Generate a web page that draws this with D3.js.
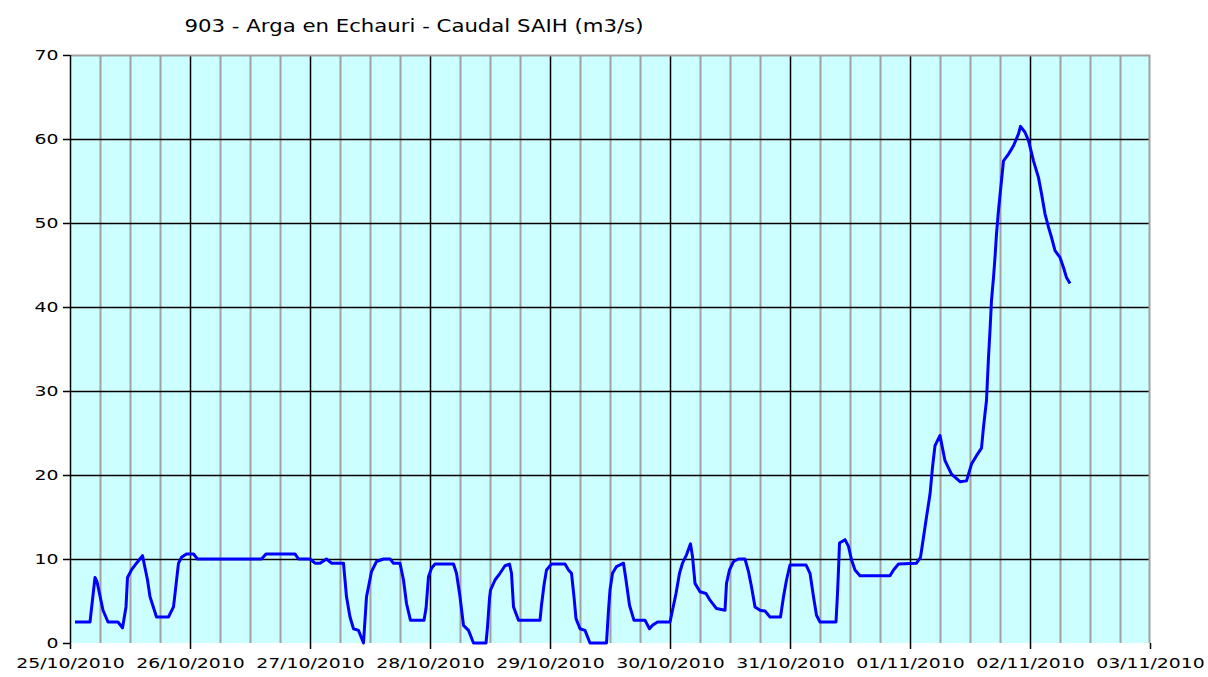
<!DOCTYPE html>
<html>
<head>
<meta charset="utf-8">
<script src="https://cdn.jsdelivr.net/npm/d3@7"></script>
<style>
  body { margin: 0; background: #ffffff; }
  text { font-family: "DejaVu Sans", Verdana, sans-serif; fill: #000; }
</style>
</head>
<body>
<div id="chart"></div>
<script>
// Caudal SAIH, estacion 903 Arga en Echauri
var titulo = "903 - Arga en Echauri - Caudal SAIH (m3/s)";
var inicio = Date.UTC(2010, 9, 25);   // 25/10/2010 00:00
var fin = Date.UTC(2010, 10, 3);      // 03/11/2010 00:00
var yTicks = [0, 10, 20, 30, 40, 50, 60, 70];

// horas desde el 25/10/2010 00:00
var horas = [
  1, 4, 5, 5.4, 6.6, 7.6, 9.6, 10.5, 11.2, 11.5, 12.3, 13.3, 14.5, 15.5, 16, 17.3, 19.7, 20.7, 21.7, 22.3, 23.3,
  24.7, 25.5, 38.3, 39.2, 45, 45.7,
  48, 49, 50, 51.3, 52.3, 54.7, 55.3, 56, 56.7, 57.7, 58.7, 59.3, 59.7, 60.3, 61.3, 62.7, 64, 64.7, 66, 66.7, 67.3, 68.1, 70.8, 71.2, 71.7,
  72.3, 73, 76.7, 77.3, 78, 78.7, 79.7, 80.7, 83.2, 83.5, 83.9, 84.1, 85, 86, 87, 87.9, 88.3, 88.7, 89.7, 94, 94.3, 94.8, 95.3,
  96.3, 99, 99.7, 100.3, 100.8, 101.2, 102, 103, 104, 107.3, 107.7, 108, 108.5, 109.3, 110.7, 111.2, 111.9, 112.8, 115, 115.9, 116.5, 117.5,
  120, 120.5, 121.2, 121.9, 122.5, 123.3, 124.1, 124.5, 125, 126, 127.2, 128, 129.3, 131, 131.3, 131.9, 132.7, 133.7, 135, 135.7, 136.3, 137, 138, 139, 140, 142.1, 142.7, 143.3,
  144, 147.2, 148, 148.7, 149.3, 150, 153.2, 153.5, 153.7, 153.9, 155, 155.7, 156.3, 157, 158, 164, 164.7, 165.7,
  169.3, 170.1, 170.7, 171.3, 172, 172.5, 173, 174, 175, 176.3, 178, 179.3, 180.3, 181.3, 182.3, 182.7, 183.3, 183.7, 184, 184.3, 184.7, 185, 185.3, 185.7, 186.1, 186.7, 187.7, 188.7, 189.7, 190.1,
  191, 191.7, 192.7, 193.7, 194.3, 195, 195.7, 196.3, 197, 198, 198.7, 199.3, 200
];
var caudal = [
  2.5, 2.5, 7.8, 7.3, 3.9, 2.5, 2.5, 1.8, 4.3, 7.8, 8.7, 9.5, 10.4, 7.5, 5.5, 3.1, 3.1, 4.3, 9.5, 10.2, 10.6,
  10.6, 10.0, 10.0, 10.6, 10.6, 10.0,
  10.0, 9.5, 9.5, 10.0, 9.5, 9.5, 5.5, 3.1, 1.7, 1.5, 0, 5.5, 6.7, 8.5, 9.7, 10.0, 10.0, 9.5, 9.5, 7.5, 4.7, 2.7, 2.7, 4.1, 7.9,
  8.9, 9.4, 9.4, 8.3, 5.5, 2.1, 1.5, 0, 0, 1.9, 5.3, 6.3, 7.5, 8.3, 9.2, 9.4, 8.3, 4.3, 2.7, 2.7, 4.5, 6.9, 8.7,
  9.4, 9.4, 8.7, 8.3, 5.5, 2.9, 1.7, 1.5, 0, 0, 3.9, 6.3, 8.3, 9.1, 9.5, 7.5, 4.5, 2.7, 2.7, 1.7, 2.1, 2.5,
  2.5, 3.9, 5.9, 8.3, 9.5, 10.5, 11.8, 10.3, 7.1, 6.1, 5.9, 5.1, 4.1, 3.9, 7.1, 8.7, 9.7, 10.0, 10.0, 8.5, 6.7, 4.3, 3.9, 3.8, 3.1, 3.1, 5.5, 7.5,
  9.3, 9.3, 8.3, 5.5, 3.3, 2.5, 2.5, 5.9, 8.7, 11.9, 12.3, 11.5, 9.9, 8.7, 8.0, 8.0, 8.7, 9.4,
  9.5, 10.2, 12.6, 15.0, 17.7, 20.9, 23.5, 24.7, 21.7, 20.1, 19.2, 19.3, 21.3, 22.3, 23.2, 25.7, 28.9, 34.0, 37.2, 40.8, 43.5, 45.9, 48.7, 51.5, 53.9, 57.4, 58.2, 59.2, 60.6, 61.5,
  60.8, 59.8, 57.4, 55.4, 53.5, 51.1, 49.5, 48.3, 46.7, 45.9, 44.7, 43.5, 42.8
];

var W = 1208, H = 677;
var margin = { top: 55, right: 58, bottom: 34, left: 70 },
    width = W - margin.left - margin.right,
    height = H - margin.top - margin.bottom;
var stretch = 1.3;   // el original tiene el texto ensanchado

var x = d3.scaleUtc().domain([new Date(inicio), new Date(fin)]).range([0, width]);
var y = d3.scaleLinear().domain([0, 70]).range([height, 0]);

var datos = horas.map(function (h, i) {
  return { t: new Date(inicio + h * 3600000), v: caudal[i] };
});

var svg = d3.select("#chart").append("svg")
  .attr("width", W)
  .attr("height", H);

svg.append("text")
  .attr("transform", "translate(414,32) scale(1.25,1)")
  .attr("text-anchor", "middle")
  .style("font-size", "17px")
  .text(titulo);

var g = svg.append("g")
  .attr("transform", "translate(" + margin.left + "," + margin.top + ")");

g.append("rect")
  .attr("width", width)
  .attr("height", height)
  .attr("fill", "#ccffff");

// rejilla vertical menor cada 6 horas
var menores = d3.utcHour.every(6).range(new Date(inicio), new Date(fin)).filter(function (d) {
  return d.getUTCHours() !== 0;
});
g.selectAll(".minor")
  .data(menores)
  .enter().append("line")
  .attr("class", "minor")
  .attr("x1", function (d) { return Math.round(x(d)) + 0.5; })
  .attr("x2", function (d) { return Math.round(x(d)) + 0.5; })
  .attr("y1", 0)
  .attr("y2", height)
  .attr("stroke", "#a0a0a0")
  .attr("stroke-width", 2);

// dias
var dias = d3.utcDay.range(new Date(inicio), new Date(fin + 1));
g.selectAll(".major")
  .data(dias.slice(1, -1))
  .enter().append("line")
  .attr("class", "major")
  .attr("x1", function (d) { return Math.round(x(d)) + 0.5; })
  .attr("x2", function (d) { return Math.round(x(d)) + 0.5; })
  .attr("y1", 0)
  .attr("y2", height)
  .attr("stroke", "#000")
  .attr("stroke-width", 1.5);

// horizontales
g.selectAll(".hgrid")
  .data(yTicks.slice(1, -1))
  .enter().append("line")
  .attr("class", "hgrid")
  .attr("x1", 0)
  .attr("x2", width)
  .attr("y1", function (d) { return Math.round(y(d)) + 0.5; })
  .attr("y2", function (d) { return Math.round(y(d)) + 0.5; })
  .attr("stroke", "#000")
  .attr("stroke-width", 1.5);

// borde superior y derecho gris
g.append("path")
  .attr("d", "M0.5,0.5H" + (width - 0.5) + "V" + height)
  .attr("fill", "none")
  .attr("stroke", "#a0a0a0")
  .attr("stroke-width", 2);

var line = d3.line()
  .x(function (d) { return x(d.t); })
  .y(function (d) { return y(d.v); });

g.append("path")
  .datum(datos)
  .attr("d", line)
  .attr("fill", "none")
  .attr("stroke", "#0000ff")
  .attr("stroke-width", 3)
  .attr("stroke-linejoin", "round");

// ejes
var yAxis = d3.axisLeft(y).tickValues(yTicks).tickSize(7).tickPadding(6);
var xAxis = d3.axisBottom(x).tickValues(dias).tickSize(6).tickPadding(9)
  .tickFormat(d3.utcFormat("%d/%m/%Y"));

var gy = g.append("g").call(yAxis);
var gx = g.append("g").attr("transform", "translate(0," + height + ")").call(xAxis);

[gx, gy].forEach(function (ax) {
  ax.select(".domain").attr("stroke", "#000").attr("stroke-width", 1.5);
  ax.selectAll(".tick line").attr("stroke", "#000").attr("stroke-width", 1.5);
  ax.selectAll("text").style("font-size", "14.5px").attr("fill", "#000");
});
gy.select(".domain").attr("d", "M0.5," + height + "V0");
gx.select(".domain").attr("d", "M0," + (height + 0.5) + "H" + width);

gx.selectAll(".tick text").each(function () {
  var t = d3.select(this);
  t.attr("transform", "scale(" + stretch + ",1)");
});
gy.selectAll(".tick text").each(function () {
  var t = d3.select(this);
  t.attr("transform", "translate(-9,0) scale(" + stretch + ",1)").attr("x", -2);
});
</script>
</body>
</html>
